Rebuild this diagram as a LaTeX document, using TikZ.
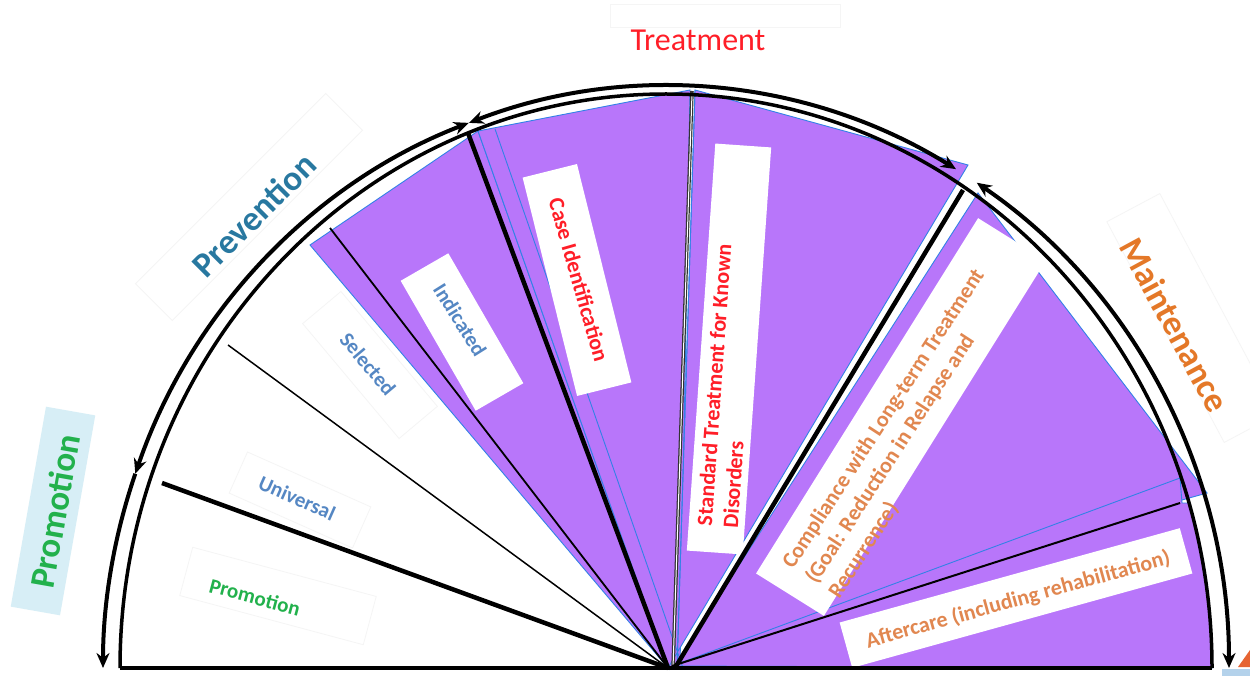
\documentclass[tikz,border=0pt]{standalone}
\usepackage{fontspec}
\setmainfont{Carlito}
\usetikzlibrary{arrows.meta,calc}
\definecolor{purp}{RGB}{184,118,250}
\definecolor{edgeblue}{RGB}{50,130,230}
\definecolor{promgreen}{RGB}{34,177,76}
\definecolor{prevteal}{RGB}{40,120,160}
\definecolor{slate}{RGB}{85,135,195}
\definecolor{treatred}{RGB}{255,30,40}
\definecolor{maintorange}{RGB}{228,120,40}
\definecolor{softorange}{RGB}{225,135,80}
\definecolor{lightcyan}{RGB}{215,238,246}
\definecolor{cornerblue}{RGB}{180,210,235}
\definecolor{cornerorange}{RGB}{230,100,50}
\tikzset{mytip/.tip={Stealth[length=15pt,width=13pt]}}
\begin{document}
\begin{tikzpicture}[x=1pt,y=-1pt,
  purpfill/.style={fill=purp,draw=edgeblue,line width=0.9pt,line join=miter},
  blueedge/.style={draw=edgeblue,line width=0.9pt},
  lbox/.style={fill=white,draw=none,inner sep=0pt},
  faint/.style={draw=black!4,line width=0.8pt,inner sep=0pt},
  bigtext/.style={font=\fontsize{35}{40}\selectfont\bfseries,inner sep=0pt},
  smalltext/.style={font=\fontsize{21}{26}\selectfont\bfseries,inner sep=0pt},
  thickray/.style={line width=4.5pt},
  thinray/.style={line width=1.5pt},
  outerarc/.style={line width=4pt}
]
\useasboundingbox (0,0) rectangle (1250,676);
\fill[white] (0,0) rectangle (1250,676);

\coordinate (C) at (666,668);
\coordinate (O) at (668,668);
\coordinate (O2) at (673,668);

% faint outline boxes
\node[faint,rotate=45,minimum width=269pt,minimum height=52pt] (fPrev) at (249,207) {};
\node[faint,minimum width=230pt,minimum height=23pt] (fTreat) at (725,16) {};
\node[faint,rotate=-62,minimum width=250pt,minimum height=60pt] (fMaint) at (1192,318) {};
\node[faint,rotate=-24,minimum width=135pt,minimum height=45pt] (fUniv) at (300,500) {};
\node[faint,rotate=-50,minimum width=150pt,minimum height=50pt] (fSel) at (370,365) {};
\node[faint,rotate=-15,minimum width=190pt,minimum height=50pt] (fProm) at (278,596) {};

% purple sectors
\draw[purpfill] (O) -- (310,245) -- (478,131) -- cycle;
\draw[purpfill] (O) -- (478,131) -- (690,90) -- (680,668) -- cycle;
\draw[purpfill] (677,668) -- (695,90) -- (968,165) -- (668,668) -- cycle;
\draw[purpfill] (O2) -- (978,193) -- (1207,493) -- (1182,500) -- cycle;
\draw[purpfill] (672,666) -- (1180,478) -- (1182,503) -- (1189,503)
   arc[start angle=16.7,end angle=0,x radius=546pt,y radius=574pt] -- cycle;
\draw[blueedge] (495,129) -- (683,668);
\draw[blueedge] (695,90) -- (677,668);
\draw[blueedge] (675,666) -- (1212,666);

% white label boxes
\node[lbox,rotate=-60,minimum width=150pt,minimum height=55pt] (bInd) at (462,332) {};
\node[lbox,rotate=-76,minimum width=225pt,minimum height=56pt] (bCase) at (577,280) {};
\node[lbox,rotate=86,minimum width=408pt,minimum height=56pt] (bStd) at (729,349) {};
\node[lbox,rotate=58,minimum width=419pt,minimum height=80pt] (bComp) at (901,417) {};
\node[lbox,rotate=15.5,minimum width=353pt,minimum height=47pt] (bAfter) at (1016,598) {};
\node[fill=lightcyan,inner sep=0pt,rotate=80,minimum width=203pt,minimum height=50pt] (bProm) at (53,511) {};

% radial lines
\draw[thickray] (O) -- (162,483);
\draw[thinray] (O) -- (228,345);
\draw[line width=1.8pt] (O) -- (330,228);
\draw[thickray] (O) -- (468,133);
\draw[line width=3.5pt,black!80] (O2) -- (692,91);
\draw[line width=1pt,white] (O2) -- (692,93);
\draw[thickray] (675,668) -- (963,190);
\draw[line width=2pt] (672,666) -- (1180,503);

% inner semicircle and base
\draw[line width=3.5pt,line join=miter] (120,668) -- (1212,668);
\draw[line width=3.5pt] (C) ++(180:546pt and 574pt)
   arc[start angle=180,end angle=0,x radius=546pt,y radius=574pt];

% outer arrowed arcs
\draw[outerarc,-{mytip}] ([shift={(C)}]160.5:563pt and 582pt)
   arc[start angle=160.5,end angle=180,x radius=563pt,y radius=582pt];
\draw[outerarc,{mytip}-{mytip}] ([shift={(C)}]110.5:563pt and 582pt)
   arc[start angle=110.5,end angle=160.5,x radius=563pt,y radius=582pt];
\draw[outerarc,{mytip}-{mytip}] ([shift={(C)}]110.5:563pt and 582pt)
   arc[start angle=110.5,end angle=59,x radius=563pt,y radius=582pt];
\draw[outerarc,{mytip}-{mytip}] ([shift={(C)}]56.5:563pt and 582pt)
   arc[start angle=56.5,end angle=0,x radius=563pt,y radius=582pt];

% corner artefacts
\fill[cornerblue] (1222,669) rectangle (1250,676);
\fill[cornerorange] (1238,667) -- (1250,650) -- (1250,667) -- cycle;

% outer labels
\node[bigtext,text=promgreen,rotate=80] (tProm) at (55,511) {Promotion};
\node[bigtext,text=prevteal,rotate=45] (tPrev) at (254,215) {Prevention};
\node[font=\fontsize{32}{36}\selectfont,text=treatred,inner sep=0pt] (tTreat) at (698,40) {Treatment};
\node[bigtext,text=maintorange,rotate=-61.5] (tMaint) at (1175,325) {Maintenance};

% inner labels
\node[smalltext,text=promgreen,rotate=-15] (lProm) at (255,597) {Promotion};
\node[smalltext,text=slate,rotate=-24] (lUniv) at (297,498) {Universal};
\node[smalltext,text=slate,rotate=-50] (lSel) at (368,364) {Selected};
\node[smalltext,text=slate,rotate=-58] (lInd) at (460,320) {Indicated};
\node[smalltext,font=\fontsize{22}{26}\selectfont\bfseries,text=treatred,rotate=-74] (lCase) at (579,280) {Case Identification};
\node[smalltext,font=\fontsize{22}{26}\selectfont\bfseries,text=treatred,rotate=86,align=left] (lStd) at (727,386) {Standard Treatment for Known\\Disorders};
\node[smalltext,font=\fontsize{22}{27.5}\selectfont\bfseries,text=softorange,rotate=57,align=left] (lComp) at (907,434) {Compliance with Long-term Treatment\\(Goal: Reduction in Relapse and\\Recurrence)};
\node[smalltext,font=\fontsize{22}{26}\selectfont\bfseries,text=softorange,rotate=15.5] (lAfter) at (1018,600) {Aftercare (including rehabilitation)};
\end{tikzpicture}
\end{document}
